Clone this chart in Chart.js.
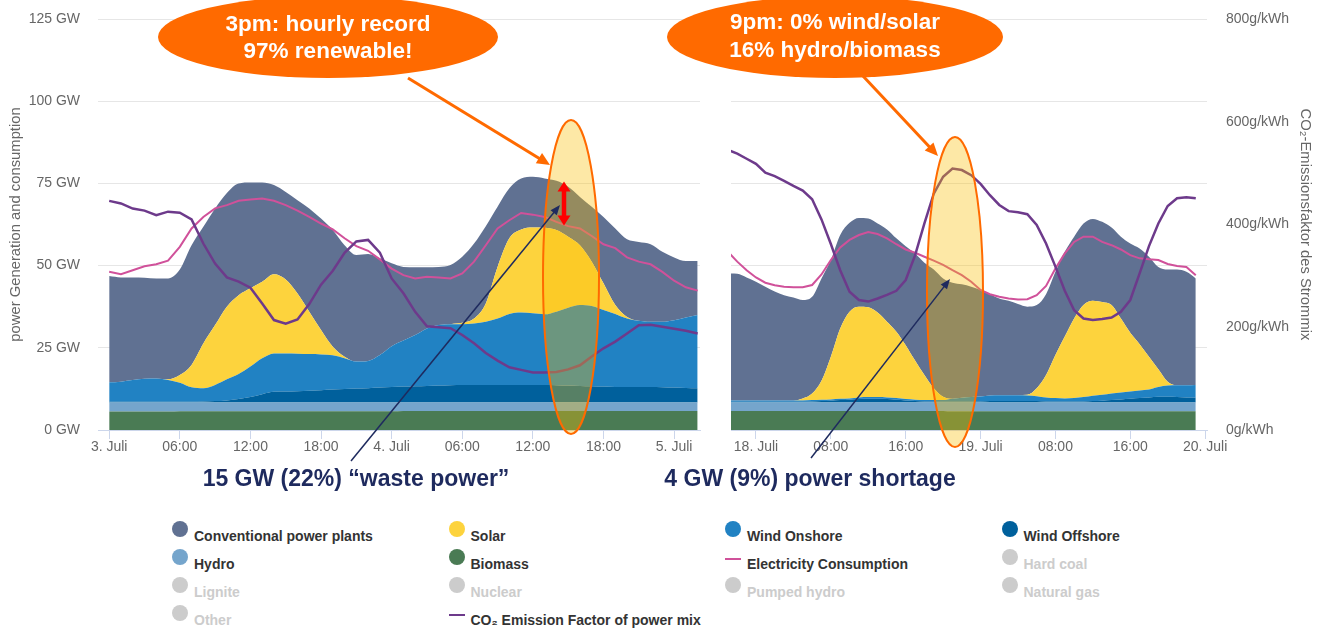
<!DOCTYPE html>
<html>
<head>
<meta charset="utf-8">
<title>Power generation and consumption</title>
<script src="https://cdn.jsdelivr.net/npm/chart.js@4.4.1/dist/chart.umd.min.js"></script>
<style>
  html, body { margin: 0; padding: 0; background: #fff; }
  body { width: 1324px; height: 628px; position: relative; overflow: hidden;
         font-family: 'Liberation Sans', Arial, sans-serif; }
  #genLeft  { position: absolute; left: 0;     top: 0; }
  #genRight { position: absolute; left: 710px; top: 0; }
  #notes { position: absolute; left: 0; top: 0; pointer-events: none; }
  .lg-text { position: absolute; font-weight: bold; font-size: 14px; line-height: 16px;
             color: #333; white-space: nowrap; }
  .lg-text.off { color: #ccc; }
  .lg-dot  { position: absolute; width: 16px; height: 16px; border-radius: 50%; }
  .lg-line { position: absolute; width: 16px; height: 2px; }
</style>
</head>
<body>
<canvas id="genLeft" width="705" height="470"></canvas>
<canvas id="genRight" width="614" height="470"></canvas>
<div id="legend"></div>
<svg id="notes" width="1324" height="628" viewBox="0 0 1324 628"></svg>

<script>
// ---- 3.–5. Juli, hourly (hour 0 = 3. Juli 00:00) ----
const leftHours = [0,1,2,3,4,5,6,7,8,9,10,11,12,13,14,15,16,17,18,19,20,21,22,23,24,
  25,26,27,28,29,30,31,32,33,34,35,36,37,38,39,40,41,42,43,44,45,46,47,48,49,50];
const leftBiomass = [5.6,5.6,5.6,5.6,5.6,5.6,5.7,5.7,5.7,5.7,5.7,5.7,5.7,5.7,5.7,5.7,5.7,5.7,5.7,5.7,5.7,5.7,5.7,5.7,5.7,
  5.8,5.8,5.8,5.8,5.8,5.8,5.8,5.8,5.8,5.8,5.8,5.8,5.8,5.8,5.8,5.8,5.8,5.8,5.8,5.8,5.8,5.8,5.8,5.8,5.8,5.8];
const leftHydro = [2.8,2.8,2.8,2.8,2.8,2.8,2.7,2.7,2.7,2.7,2.7,2.7,2.7,2.7,2.7,2.7,2.7,2.7,2.7,2.7,2.7,2.7,2.7,2.7,2.7,
  2.6,2.6,2.6,2.6,2.6,2.6,2.6,2.6,2.6,2.6,2.6,2.6,2.6,2.6,2.6,2.6,2.6,2.6,2.6,2.6,2.6,2.6,2.6,2.6,2.6,2.6];
const leftOffshore = [0.2,0.2,0.2,0.2,0.2,0.2,0.2,0.2,0.3,0.4,0.6,1.0,1.6,2.5,3.2,3.3,3.4,3.5,3.7,3.9,4.1,4.2,4.3,4.5,4.7,
  4.8,4.9,5.0,5.1,5.2,5.3,5.3,5.3,5.3,5.3,5.3,5.3,5.3,5.2,5.1,5.0,4.9,4.8,4.7,4.7,4.7,4.7,4.6,4.5,4.4,4.3];
const leftOnshore = [5.9,6.1,6.6,7.0,7.1,6.6,5.8,4.4,4.0,4.9,6.4,7.6,9.3,10.9,11.7,11.6,11.4,11.2,10.9,10.4,9.3,8.2,8.3,9.9,12.4,
  14.0,15.6,17.5,18.4,18.6,18.5,18.7,19.2,20.2,21.6,22.0,21.8,21.5,22.4,23.7,24.6,24.4,23.3,22.2,20.8,20.1,19.8,19.9,20.5,21.4,22.3];
const leftSolar = [0,0,0,0,0,0.2,2.3,6.8,13.6,18.2,22.1,24.0,23.8,23.3,24.1,22.5,18.3,12.9,7.4,2.6,0.5,0,0,0,0,
  0,0,0,0,0,0.4,1.5,5.6,15.7,23.0,25.3,26.1,26.3,24.8,21.6,18.2,13.5,8.1,2.7,0.5,0,0,0,0,0,0];
const leftConventional = [32.3,31.7,31.2,30.7,30.4,30.7,32.1,36.4,35.5,35.5,34.6,34.0,32.2,30.2,27.1,26.6,28.4,31.4,33.9,35.5,33.9,32.4,32.5,29.4,25.2,
  22.4,20.6,18.6,17.7,18.0,20.1,22.8,23.5,18.3,15.2,15.5,15.4,15.0,15.0,15.2,14.7,16.7,20.2,23.3,23.6,24.0,23.6,21.3,19.1,17.2,16.4];
const leftLoad = [48.1,47.4,48.6,49.8,50.4,51.5,55.7,61.3,64.8,67.4,68.4,69.7,70.1,70.4,69.7,68.4,66.7,64.8,62.8,61.0,58.3,55.9,54.5,51.9,49.1,
  47.1,46.1,46.6,46.4,46.1,47.6,51.2,56.2,61.3,63.8,66.0,65.5,64.8,63.3,62.0,61.3,59.0,56.5,55.3,52.5,51.2,50.4,48.1,45.4,43.4,42.4];
const leftCo2 = [446,441,431,427,418,425,423,410,363,324,297,289,277,246,214,207,215,245,283,310,345,367,370,345,295,
  266,230,202,200,198,185,169,150,135,122,117,112,112,113,118,126,143,159,172,188,204,205,201,197,193,188];
const leftTickHours = [0,6,12,18,24,30,36,42,48];
const leftTickLabels = ['3. Juli','06:00','12:00','18:00','4. Juli','06:00','12:00','18:00','5. Juli'];

// ---- 17.–19. Juli, hourly (hour 0 = 18. Juli 00:00) ----
const rightHours = [-3,-2,-1,0,1,2,3,4,5,6,7,8,9,10,11,12,13,14,15,16,17,18,19,20,21,22,
  23,24,25,26,27,28,29,30,31,32,33,34,35,36,37,38,39,40,41,42,43,44,45,46,47];
const rightBiomass = [5.8,5.8,5.8,5.8,5.8,5.8,5.8,5.8,5.8,5.8,5.8,5.8,5.8,5.8,5.8,5.8,5.8,5.8,5.8,5.8,5.8,5.8,5.8,5.8,
  5.7,5.7,5.7,5.7,5.7,5.7,5.7,5.7,5.7,5.7,5.7,5.7,5.7,5.7,5.7,5.7,5.7,5.7,5.7,5.7,5.7,5.7,5.7,5.7,5.7,5.7,5.7];
const rightHydro = [2.6,2.6,2.6,2.6,2.6,2.6,2.6,2.6,2.6,2.6,2.6,2.6,2.6,2.6,2.6,2.6,2.6,2.6,2.6,2.6,2.6,2.6,2.6,2.6,
  2.7,2.7,2.7,2.7,2.7,2.7,2.7,2.7,2.7,2.7,2.7,2.7,2.7,2.7,2.7,2.7,2.7,2.7,2.7,2.7,2.7,2.7,2.7,2.7,2.7,2.7,2.7];
const rightOffshore = [0.2,0.2,0.2,0.2,0.2,0.2,0.2,0.2,0.2,
  0.3,0.4,0.5,0.7,0.8,1.0,1.1,1.1,1.0,0.8,0.6,0.4,0.3,
  0.3,0.3,0.3,0.3,0.3,0.3,
  0.4,0.4,0.4,0.4,0.4,0.4,
  0.3,0.3,0.3,0.3,0.3,
  0.4,0.5,0.7,0.9,1.1,1.3,1.5,1.7,1.7,1.6,1.5,1.5];
const rightOnshore = [0.4,0.4,0.4,0.4,0.4,0.4,0.4,0.4,0.4,0.4,0.4,0.4,0.4,0.4,
  0.5,0.5,0.5,0.5,0.5,0.4,0.4,0.4,0.4,0.4,
  0.8,1.1,1.3,1.5,1.7,1.8,1.8,1.8,1.7,1.5,1.2,1.0,0.9,1.0,1.3,1.6,1.8,2.0,2.1,2.2,2.3,2.4,3.0,3.4,3.6,3.7,3.8];
const rightSolar = [0,0,0,0,0,0,0,0,
  0.6,2.0,5.8,13.0,21.4,26.4,27.6,27.3,25.7,23.0,20.2,16.4,11.9,7.6,3.6,1.0,
  0,0,0,0,0,0,0,0,
  0.2,2.4,6.8,13.1,18.8,24.2,28.0,28.9,28.2,26.9,22.5,17.9,14.1,10.0,5.4,1.2,
  0,0,0];
const rightConventional = [38.6,38.5,37.4,36.1,34.6,33.1,32.0,31.3,29.9,29.4,31.1,29.4,28.4,27.0,27.0,27.0,27.1,28.1,28.4,30.1,32.6,34.2,36.1,36.0,35.3,34.5,
  33.6,32.4,30.8,29.4,28.7,27.7,26.8,25.3,24.6,25.3,25.8,24.9,24.8,24.9,24.4,23.6,24.9,27.1,29.1,30.4,31.1,34.1,35.2,34.5,32.4];
const rightLoad = [54.2,51.2,48.6,46.4,44.8,44.0,43.6,43.4,43.4,44.1,47.3,51.7,55.5,57.8,59.3,60.2,59.6,58.3,56.5,54.9,53.9,52.7,51.5,50.2,48.6,47.1,
  45.1,42.6,41.3,40.5,40.0,39.7,39.8,41.0,43.8,49.1,53.7,57.2,58.8,58.8,57.2,56.2,54.9,53.2,52.2,51.9,51.7,50.5,49.9,49.6,47.1];
const rightCo2 = [545,538,528,518,501,494,485,475,466,449,410,362,311,269,253,250,256,263,271,292,340,402,460,493,509,506,
  496,479,457,438,426,424,420,399,363,318,271,233,217,214,216,219,230,253,305,358,402,436,451,453,451];
const rightTickHours = [0,8,16,24,32,40,48];
const rightTickLabels = ['18. Juli','08:00','16:00','19. Juli','08:00','16:00','20. Juli'];

// ---- styling ----
const COLORS = {
  conventional: '#607192', solar: '#fdd33d', onshore: '#2182c3', offshore: '#00609c',
  hydro: '#75a5cc', biomass: '#4a7b54', load: '#d0519a', co2: '#6d3a8b', off: '#cccccc'
};
const GRID = '#e6e6e6';
const AXIS = '#ccd6eb';
const NONE = 'rgba(0,0,0,0)';
const TITLE_FONT = { size: 14.8 };

Chart.defaults.font.family = "'Liberation Sans', Arial, sans-serif";
Chart.defaults.font.size = 14;
Chart.defaults.color = '#666';

function pts(hours, vals) { return hours.map((h, i) => ({ x: h, y: vals[i] })); }

function area(label, hours, vals, color, fill) {
  return { label, data: pts(hours, vals), yAxisID: 'y', stack: 'gen', fill,
           backgroundColor: color, borderColor: color, borderWidth: 0,
           pointRadius: 0, cubicInterpolationMode: 'monotone' };
}

function datasets(h, s) {
  return [
    { label: 'CO₂ Emission Factor of power mix', data: pts(h, s.co2), yAxisID: 'y1',
      borderColor: COLORS.co2, borderWidth: 2.5, fill: false, pointRadius: 0 },
    { label: 'Electricity Consumption', data: pts(h, s.load), yAxisID: 'y', stack: 'load',
      borderColor: COLORS.load, borderWidth: 2, fill: false, pointRadius: 0 },
    area('Biomass', h, s.biomass, COLORS.biomass, 'origin'),
    area('Hydro', h, s.hydro, COLORS.hydro, '-1'),
    area('Wind Offshore', h, s.offshore, COLORS.offshore, '-1'),
    area('Wind Onshore', h, s.onshore, COLORS.onshore, '-1'),
    area('Solar', h, s.solar, COLORS.solar, '-1'),
    area('Conventional power plants', h, s.conventional, COLORS.conventional, '-1')
  ];
}

function timeAxis(min, max, tickHours, tickLabels) {
  return {
    type: 'linear', bounds: 'data', min, max,
    afterBuildTicks: sc => { sc.ticks = tickHours.map(v => ({ value: v })); },
    afterFit: sc => { sc.height = 40; },
    ticks: { autoSkip: false, maxRotation: 0, padding: 0, callback: (v, i) => tickLabels[i] },
    grid: { drawOnChartArea: false, drawTicks: true, tickLength: 9, color: AXIS },
    border: { display: true, color: AXIS }
  };
}

const common = {
  responsive: false, animation: false, events: [],
  plugins: { legend: { display: false }, tooltip: { enabled: false } }
};

new Chart(document.getElementById('genLeft'), {
  type: 'line',
  data: { datasets: datasets(leftHours, {
    co2: leftCo2, load: leftLoad, biomass: leftBiomass, hydro: leftHydro, offshore: leftOffshore,
    onshore: leftOnshore, solar: leftSolar, conventional: leftConventional }) },
  options: Object.assign({}, common, {
    layout: { padding: { left: 0, right: 5, top: 19, bottom: 0 } },
    scales: {
      x: timeAxis(-0.95, 50.2, leftTickHours, leftTickLabels),
      y: { position: 'left', stacked: true, min: 0, max: 125,
           ticks: { stepSize: 25, padding: 2, callback: v => v + ' GW' },
           grid: { color: GRID, drawTicks: true, tickLength: 16, tickColor: NONE },
           border: { display: false },
           title: { display: true, text: 'power Generation and consumption', color: '#666',
                    font: TITLE_FONT, padding: { top: 7, bottom: 0 } },
           afterFit: sc => { sc.width = 98; } },
      y1: { display: false, position: 'right', min: 0, max: 800 }
    }
  })
});

new Chart(document.getElementById('genRight'), {
  type: 'line',
  data: { datasets: datasets(rightHours, {
    co2: rightCo2, load: rightLoad, biomass: rightBiomass, hydro: rightHydro, offshore: rightOffshore,
    onshore: rightOnshore, solar: rightSolar, conventional: rightConventional }) },
  options: Object.assign({}, common, {
    layout: { padding: { left: 0, right: 0, top: 19, bottom: 0 } },
    scales: {
      x: timeAxis(-2.67, 48.2, rightTickHours, rightTickLabels),
      y: { position: 'left', stacked: true, min: 0, max: 125,
           ticks: { display: false, stepSize: 25, padding: 0 },
           grid: { color: GRID, drawTicks: false },
           border: { display: false },
           afterFit: sc => { sc.width = 21; } },
      y1: { position: 'right', min: 0, max: 800,
            ticks: { stepSize: 200, padding: 2, callback: v => v + 'g/kWh' },
            grid: { display: true, drawOnChartArea: false, drawTicks: true, tickLength: 17, tickColor: NONE, color: NONE },
            border: { display: false },
            title: { display: true, text: 'CO₂-Emissionsfaktor des Strommix', color: '#666',
                     font: TITLE_FONT, padding: { top: 10, bottom: 0 } },
            afterFit: sc => { sc.width = 117; } }
    }
  })
});

// ---- legend (4 columns, row by row) ----
const legendEntries = [
  ['Conventional power plants', 'dot', 'conventional'],
  ['Solar', 'dot', 'solar'],
  ['Wind Onshore', 'dot', 'onshore'],
  ['Wind Offshore', 'dot', 'offshore'],
  ['Hydro', 'dot', 'hydro'],
  ['Biomass', 'dot', 'biomass'],
  ['Electricity Consumption', 'line', 'load'],
  ['Hard coal', 'dot', null],
  ['Lignite', 'dot', null],
  ['Nuclear', 'dot', null],
  ['Pumped hydro', 'dot', null],
  ['Natural gas', 'dot', null],
  ['Other', 'dot', null],
  ['CO₂ Emission Factor of power mix', 'line', 'co2']
];
const legend = document.getElementById('legend');
legendEntries.forEach(([name, kind, key], i) => {
  const col = i % 4, row = Math.floor(i / 4);
  const cx = 180 + 276.5 * col, cy = 536 + 28 * row;
  const color = key ? COLORS[key] : COLORS.off;
  const mark = document.createElement('div');
  if (kind === 'dot') {
    mark.className = 'lg-dot';
    mark.style.left = (cx - 8) + 'px'; mark.style.top = (cy - 15) + 'px';
  } else {
    mark.className = 'lg-line';
    mark.style.left = (cx - 8) + 'px'; mark.style.top = (cy - 6) + 'px';
  }
  mark.style.background = color;
  legend.appendChild(mark);
  const txt = document.createElement('div');
  txt.className = 'lg-text' + (key ? '' : ' off');
  txt.style.left = (cx + 14) + 'px'; txt.style.top = (cy - 8) + 'px';
  txt.textContent = name;
  legend.appendChild(txt);
});

// ---- callouts ----
const SVGNS = 'http://www.w3.org/2000/svg';
const notes = document.getElementById('notes');
function el(tag, attrs, text) {
  const e = document.createElementNS(SVGNS, tag);
  for (const k in attrs) e.setAttribute(k, attrs[k]);
  if (text) e.textContent = text;
  notes.appendChild(e);
  return e;
}
function arrow(x1, y1, x2, y2, color, w, hl, hw) {
  const dx = x2 - x1, dy = y2 - y1, L = Math.hypot(dx, dy), ux = dx / L, uy = dy / L;
  const bx = x2 - ux * hl, by = y2 - uy * hl;
  el('line', { x1, y1, x2: bx + ux, y2: by + uy, stroke: color, 'stroke-width': w });
  el('polygon', { fill: color, points:
    `${x2},${y2} ${bx - uy * hw / 2},${by + ux * hw / 2} ${bx + uy * hw / 2},${by - ux * hw / 2}` });
}
const ORANGE = '#ff6a00', NAVY = '#1e2a5e';
const HILITE = 'rgba(250,190,0,0.35)';

el('ellipse', { cx: 571, cy: 277, rx: 28, ry: 157, fill: HILITE, stroke: ORANGE, 'stroke-width': 2 });
el('ellipse', { cx: 955, cy: 292, rx: 28, ry: 155, fill: HILITE, stroke: ORANGE, 'stroke-width': 2 });

arrow(564, 203, 564, 181.5, '#ff0000', 4.5, 10, 13);
arrow(564, 203, 564, 225.5, '#ff0000', 4.5, 10, 13);

arrow(351, 461, 560, 205, NAVY, 1.5, 10, 8);
arrow(811, 458, 950, 279, NAVY, 1.5, 10, 8);

arrow(408, 78, 550, 165, ORANGE, 3, 13, 12);
arrow(863, 76, 938, 156, ORANGE, 3, 13, 12);

el('ellipse', { cx: 328, cy: 37, rx: 170, ry: 41, fill: ORANGE });
el('ellipse', { cx: 835, cy: 37, rx: 168, ry: 41, fill: ORANGE });

const txtStyle = { 'font-family': "'Liberation Sans', Arial, sans-serif", 'font-weight': 'bold',
                   'text-anchor': 'middle', 'dominant-baseline': 'central' };
el('text', Object.assign({ x: 328, y: 23, fill: '#fff', 'font-size': 22.5 }, txtStyle), '3pm: hourly record');
el('text', Object.assign({ x: 328, y: 50, fill: '#fff', 'font-size': 22.5 }, txtStyle), '97% renewable!');
el('text', Object.assign({ x: 835, y: 21, fill: '#fff', 'font-size': 22.5 }, txtStyle), '9pm: 0% wind/solar');
el('text', Object.assign({ x: 835, y: 49, fill: '#fff', 'font-size': 22.5 }, txtStyle), '16% hydro/biomass');
el('text', Object.assign({ x: 356, y: 478, fill: NAVY, 'font-size': 23 }, txtStyle), '15 GW (22%) “waste power”');
el('text', Object.assign({ x: 810, y: 478, fill: NAVY, 'font-size': 23 }, txtStyle), '4 GW (9%) power shortage');
</script>
</body>
</html>
